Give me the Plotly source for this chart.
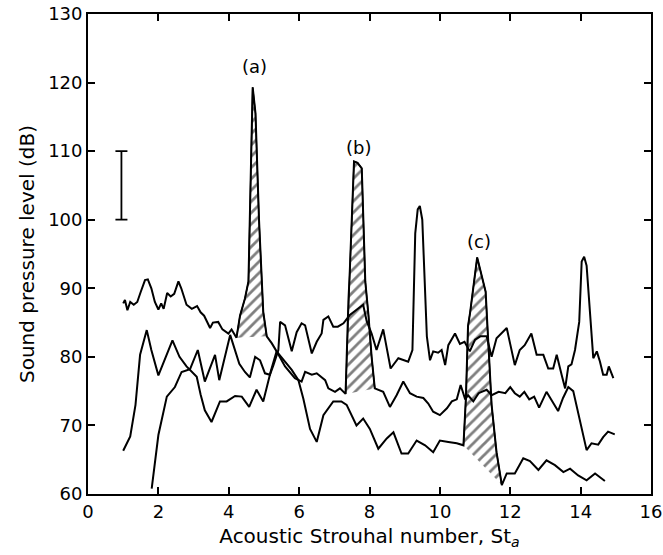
"""
Sound pressure level spectra vs acoustic Strouhal number, with the three
resonance peaks (a), (b), (c) hatched.
"""

# IMPORTS
import numpy as np
from plotly import graph_objects as go

# DATA
# spectrum 1 : starts high (~88 dB), carries peak (a) then falls, carries peak (c)
ST_1 = [1.0, 1.05, 1.12, 1.2, 1.3, 1.4, 1.5, 1.62, 1.7, 1.8, 1.9, 2.0, 2.08, 2.15,
        2.25, 2.35, 2.45, 2.57, 2.65, 2.8, 2.95, 3.1, 3.2, 3.3, 3.47, 3.55, 3.7,
        3.82, 3.99, 4.08, 4.22, 4.32, 4.46, 4.56, 4.68, 4.76, 4.86, 4.94, 4.98,
        5.08, 5.22, 5.36, 5.6, 5.79, 5.98, 6.12, 6.31, 6.5, 6.69, 6.97, 7.2, 7.35,
        7.63, 7.82, 8.01, 8.25, 8.49, 8.68, 8.91, 9.1, 9.34, 9.58, 9.81, 10.0,
        10.24, 10.48, 10.67, 10.74, 10.8, 10.86, 11.06, 11.2, 11.3, 11.37, 11.47,
        11.61, 11.76, 11.9, 12.13, 12.37, 12.56, 12.8, 13.03, 13.27, 13.51, 13.7,
        13.93, 14.17, 14.41, 14.69]
SPL_1 = [87.8, 88.3, 86.8, 88.0, 87.6, 88.0, 89.5, 91.2, 91.3, 90.0, 88.0, 86.9, 87.8, 87.0,
         89.3, 88.8, 89.2, 91.0, 90.0, 87.6, 87.0, 87.4, 86.5, 86.0, 84.2, 85.0, 85.1,
         84.0, 83.4, 84.0, 82.8, 86.0, 88.5, 91.0, 119.3, 115.5, 100.0, 91.0, 86.6,
         83.0, 82.0, 80.8, 79.3, 78.1, 76.6, 73.9, 69.5, 67.6, 71.5, 73.5, 73.5, 73.0,
         70.0, 71.0, 69.5, 66.6, 68.1, 69.0, 65.9, 65.9, 67.8, 67.1, 66.1, 67.8,
         67.6, 67.4, 67.1, 74.0, 84.5, 86.5, 94.5, 91.5, 89.5, 82.7, 73.0,
         66.1, 61.3, 63.0, 63.0, 65.2, 64.8, 63.5, 64.9, 64.2, 63.2, 63.7,
         62.7, 62.0, 63.0, 61.9]

# spectrum 2 : starts at ~66 dB, carries peak (b), ends ~69 dB
ST_2 = [1.0, 1.2, 1.35, 1.48, 1.67, 1.8, 2.0, 2.2, 2.4, 2.6, 2.8, 3.09, 3.2, 3.32,
        3.51, 3.75, 3.94, 4.18, 4.37, 4.58, 4.79, 4.98, 5.2, 5.36, 5.6, 5.88, 6.07,
        6.17, 6.36, 6.5, 6.74, 6.83, 7.02, 7.16, 7.32, 7.4, 7.44, 7.56, 7.66, 7.78,
        7.88, 7.97, 8.06, 8.15, 8.39, 8.58, 8.77, 8.96, 9.15, 9.34, 9.53, 9.67, 9.81,
        10.0, 10.2, 10.34, 10.48, 10.59, 10.72, 10.8, 10.95, 11.1, 11.33, 11.47,
        11.67, 11.86, 12.0, 12.13, 12.27, 12.4, 12.54, 12.68, 12.82, 13.03, 13.2,
        13.36, 13.5, 13.65, 13.79, 13.95, 14.17, 14.31, 14.5, 14.64, 14.78, 14.97]
SPL_2 = [66.3, 68.4, 73.0, 80.3, 83.9, 81.0, 77.3, 80.0, 82.4, 80.0, 78.6, 77.1, 74.5, 72.2,
         70.5, 73.5, 73.5, 74.3, 74.2, 72.7, 75.2, 73.5, 78.0, 80.8, 78.6, 76.9, 76.4,
         77.8, 77.4, 77.6, 76.6, 75.4, 74.9, 75.4, 74.6, 88.0, 92.5, 108.5, 108.3, 107.5,
         91.0, 86.1, 80.0, 75.4, 74.9, 72.7, 74.4, 76.4, 74.7, 74.2, 74.0, 73.2, 72.0,
         71.5, 72.5, 73.5, 73.8, 75.9, 73.8, 74.4, 73.5, 74.7, 75.2, 74.4,
         74.9, 74.7, 75.6, 74.7, 74.2, 74.9, 73.8, 74.2, 72.6, 74.9, 73.5,
         72.1, 74.0, 75.6, 75.0, 71.5, 66.4, 67.4, 67.2, 68.3, 69.1, 68.7]

# spectrum 3 : starts at ~61 dB, upper curve on the right, peaks at 9.4 and 14.1
ST_3 = [1.81, 2.0, 2.24, 2.47, 2.66, 2.9, 3.12, 3.32, 3.61, 3.73, 4.04, 4.18, 4.3,
        4.46, 4.6, 4.75, 4.89, 5.03, 5.17, 5.27, 5.41, 5.46, 5.6, 5.79, 5.93, 6.07,
        6.17, 6.36, 6.5, 6.64, 6.69, 6.83, 6.97, 7.1, 7.26, 7.44, 7.64, 7.82, 7.92,
        8.06, 8.2, 8.39, 8.6, 8.82, 9.1, 9.22, 9.3, 9.37, 9.43, 9.5, 9.63, 9.72,
        9.81, 9.95, 10.05, 10.15, 10.24, 10.43, 10.57, 10.7, 10.85, 11.0, 11.15,
        11.33, 11.47, 11.61, 11.9, 12.0, 12.13, 12.27, 12.41, 12.6, 12.75, 12.94,
        13.08, 13.22, 13.32, 13.46, 13.56, 13.65, 13.74, 13.84, 13.96, 14.03, 14.1,
        14.17, 14.36, 14.46, 14.55, 14.64, 14.74, 14.8, 14.93]
SPL_3 = [60.8, 68.6, 74.2, 75.6, 77.8, 78.2, 81.0, 76.4, 80.3, 76.6, 83.2, 80.8, 79.0,
         77.8, 77.0, 80.0, 79.5, 77.6, 77.4, 78.8, 81.0, 85.1, 84.6, 80.8, 83.6, 84.9,
         84.6, 80.5, 82.2, 83.4, 85.4, 85.9, 84.4, 84.4, 84.9, 86.1, 86.9, 87.6, 85.2,
         83.4, 81.0, 84.0, 78.3, 79.8, 79.3, 81.0, 98.0, 101.5, 102.0, 100.0, 83.0, 79.5,
         80.8, 80.6, 81.0, 78.8, 81.7, 83.4, 81.9, 82.2, 80.8, 82.5, 83.0,
         83.0, 80.0, 82.7, 84.2, 82.0, 78.8, 81.0, 81.7, 83.4, 80.3, 80.3,
         78.3, 78.3, 80.3, 77.4, 75.4, 78.6, 78.9, 81.0, 85.1, 93.9, 94.6,
         93.3, 79.8, 80.8, 79.3, 77.4, 77.4, 78.6, 76.9]

# hatched resonance peaks : label, spectrum, St range, label position
PEAK_LABELS = ["(a)", "(b)", "(c)"]
PEAK_SPECTRUM = [1, 2, 1]
PEAK_RANGES = [(4.22, 5.08), (7.32, 8.15), (10.67, 11.76)]
LABEL_ST = [4.72, 7.68, 11.12]
LABEL_SPL = [122.3, 110.6, 96.8]

# error bar scale (10 dB)
BAR_ST = [0.95]
BAR_SPL = [105]
BAR_HALF = 5

SPECTRA = {1: (ST_1, SPL_1), 2: (ST_2, SPL_2), 3: (ST_3, SPL_3)}

FONT = "DejaVu Sans"

fig = go.Figure()

# HATCHED AREAS (drawn first, the curves go on top)
for num, (lo, hi) in zip(PEAK_SPECTRUM, PEAK_RANGES):
    st, spl = SPECTRA[num]
    st = np.array(st)
    spl = np.array(spl)
    mask = (st >= lo) & (st <= hi)
    fig.add_trace(go.Scatter(
        x=st[mask], y=spl[mask],
        mode="lines", fill="toself",
        line=dict(color="black", width=1.3),
        fillcolor="white",
        fillpattern=dict(shape="/", fgcolor="black", bgcolor="white",
                         size=8, solidity=0.35),
        hoverinfo="skip", showlegend=False,
    ))

# SPECTRA
for num in [1, 2, 3]:
    st, spl = SPECTRA[num]
    fig.add_trace(go.Scatter(
        x=st, y=spl, mode="lines",
        line=dict(color="black", width=2),
        showlegend=False,
    ))

# 10 dB scale bar
fig.add_trace(go.Scatter(
    x=BAR_ST, y=BAR_SPL, mode="markers",
    marker=dict(size=1, color="rgba(0,0,0,0)"),
    error_y=dict(type="constant", value=BAR_HALF, width=6,
                 thickness=1.8, color="black"),
    showlegend=False,
))

for lab, x, y in zip(PEAK_LABELS, LABEL_ST, LABEL_SPL):
    fig.add_annotation(x=x, y=y, text=lab, showarrow=False,
                       font=dict(family=FONT, size=18, color="black"))

axis_style = dict(
    showgrid=False, zeroline=False, automargin=False,
    showline=True, linecolor="black", linewidth=1.8,
    mirror="ticks", ticks="inside", ticklen=7, tickwidth=1.6, tickcolor="black",
    ticklabeloverflow="allow",
    tickfont=dict(family=FONT, size=18, color="black"),
)

fig.update_layout(
    width=663, height=555,
    margin=dict(l=88, r=12, t=14, b=61),
    plot_bgcolor="white", paper_bgcolor="white",
    xaxis=dict(range=[0, 16], dtick=2,
               title=dict(text="Acoustic Strouhal number, St<sub><i>a</i></sub>",
                          font=dict(family=FONT, size=20, color="black"), standoff=8),
               **axis_style),
    yaxis=dict(range=[60, 130], dtick=10,
               title=dict(text="Sound pressure level (dB)",
                          font=dict(family=FONT, size=20, color="black"), standoff=8),
               **axis_style),
)

# remove the default 8 px page margin so the figure fills the window
fig.write_html("out.html", config={"displayModeBar": False},
               post_script="document.body.style.margin = '0px';")
